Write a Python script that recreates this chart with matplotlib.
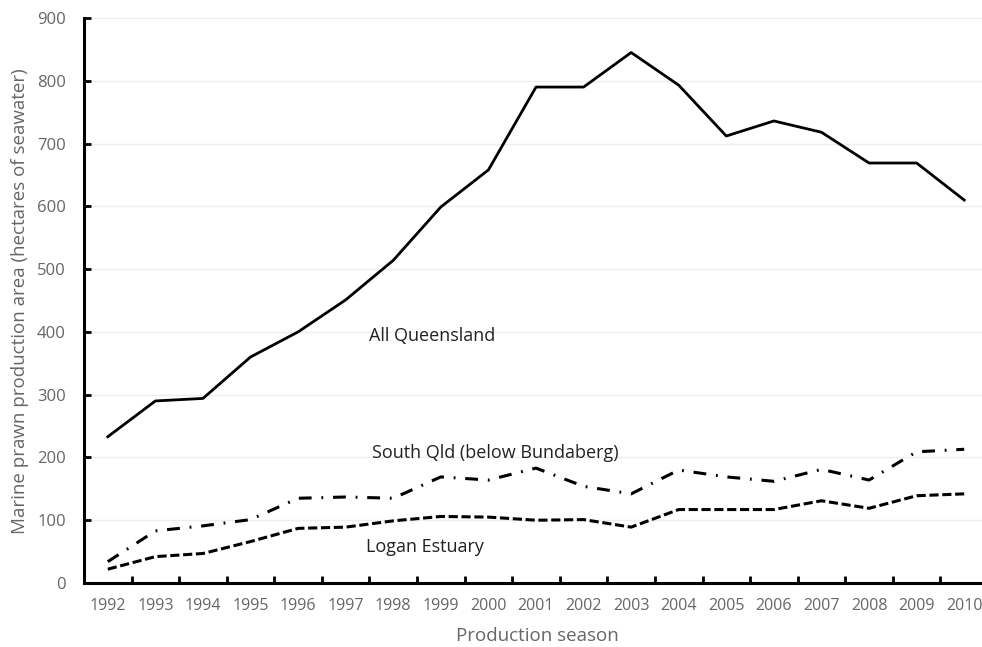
import matplotlib
matplotlib.use("Agg")
import matplotlib.pyplot as plt

years = ["1992", "1993", "1994", "1995", "1996", "1997", "1998", "1999", "2000", "2001",
         "2002", "2003", "2004", "2005", "2006", "2007", "2008", "2009", "2010"]
all_qld = [233, 290, 294, 360, 400, 451, 514, 599, 658, 790, 790, 845, 793, 712, 736, 718, 669, 669, 610]
south_qld = [34, 83, 91, 101, 135, 137, 135, 169, 164, 183, 154, 142, 180, 169, 162, 181, 164, 209, 213]
logan = [22, 42, 47, 66, 87, 89, 99, 106, 105, 100, 101, 89, 117, 117, 117, 131, 119, 139, 142]
y_ticks = [0, 100, 200, 300, 400, 500, 600, 700, 800, 900]

plt.rcParams['font.family'] = ['Open Sans', 'DejaVu Sans']
gray = '#666666'

fig = plt.figure(figsize=(9.82, 6.47), dpi=100)
ax = fig.add_axes([84/982, 1 - 583/647, 904/982, (583-18)/647])

x = list(range(len(years)))
ax.plot(x, all_qld, color='black', lw=2.0, solid_joinstyle='round')
ax.plot(x, south_qld, color='black', lw=2.2, linestyle=(0, (4.2, 3.2, 0.6, 3.2)))
ax.plot(x, logan, color='black', lw=2.2, linestyle=(0, (3, 1.2)))

ax.set_xlim(-0.5, len(years) - 0.5)
ax.set_ylim(0, 900)
ax.set_yticks(y_ticks)
ax.set_yticklabels([str(v) for v in y_ticks], color=gray, fontsize=12)
ax.set_xticks(x)
ax.set_xticklabels(years, color=gray, fontsize=11.5)
ax.set_xticks([i + 0.5 for i in x[:-1]], minor=True)
ax.tick_params(axis='x', which='major', length=0, pad=11)
ax.tick_params(axis='x', which='minor', direction='in', length=5, width=2, color='black')
ax.tick_params(axis='y', direction='in', length=5, width=2, color='black', pad=13)

for s in ['top', 'right']:
    ax.spines[s].set_visible(False)
for s in ['left', 'bottom']:
    ax.spines[s].set_linewidth(2.2)
    ax.spines[s].set_color('black')

ax.grid(axis='y', color='#eeeeee', lw=1)
ax.set_axisbelow(True)

ax.text(6.82, 393, "All Queensland", ha='center', va='center', fontsize=13, color='#222222')
ax.text(8.15, 207, "South Qld (below Bundaberg)", ha='center', va='center', fontsize=13, color='#222222')
ax.text(6.67, 57, "Logan Estuary", ha='center', va='center', fontsize=13, color='#222222')

fig.text(537/982, 1 - 636/647, "Production season", color=gray, fontsize=13.5, ha='center', va='center')
fig.text(20/982, 1 - 301/647, "Marine prawn production area (hectares of seawater)", color=gray,
         fontsize=13.5, ha='center', va='center', rotation=90)

fig.savefig("out.png", dpi=100)
